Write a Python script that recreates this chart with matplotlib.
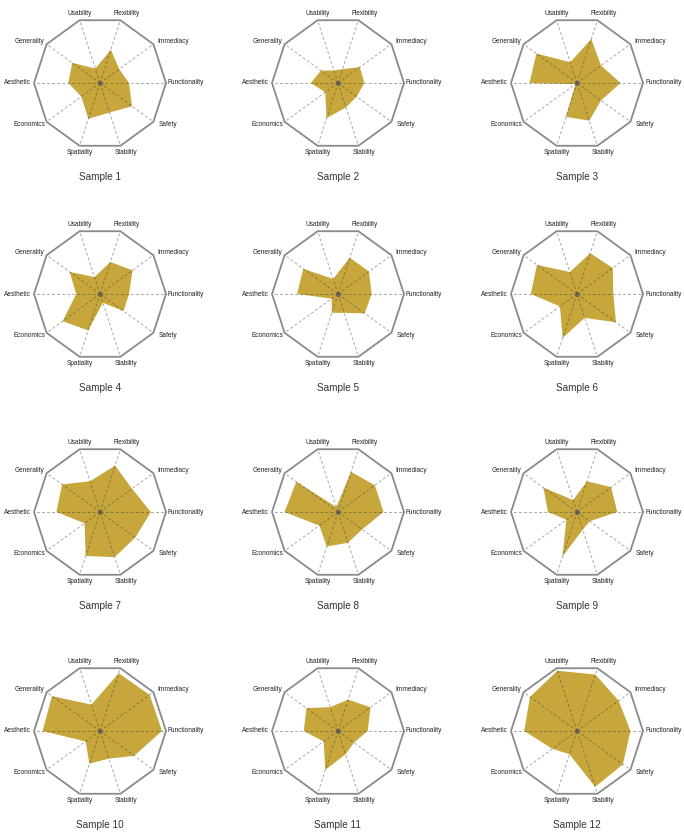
import numpy as np
import matplotlib
matplotlib.use("Agg")
import matplotlib.pyplot as plt

# Categories, counter-clockwise starting at 0 degrees (right)
categories = ["Functionality", "Immediacy", "Flexibility", "Usability", "Generality",
              "Aesthetic", "Economics", "Spatiality", "Stability", "Safety"]

sample_names = [f"Sample {i}" for i in range(1, 13)]

s1 = [44, 36, 53, 23, 52, 48, 35, 57, 47, 60]
s2 = [40, 41, 22, 20, 32, 41, 24, 56, 39, 35]
s3 = [66, 45, 70, 33, 76, 72, 3, 54, 60, 45]
s4 = [44, 61, 51, 27, 57, 36, 70, 58, 14, 44]
s5 = [51, 58, 58, 24, 65, 62, 12, 30, 30, 50]
s6 = [55, 67, 65, 35, 75, 70, 32, 70, 38, 73]
s7 = [77, 60, 74, 49, 71, 66, 29, 70, 72, 66]
s8 = [69, 69, 64, 8, 78, 81, 35, 55, 49, 45]
s9 = [61, 64, 49, 19, 63, 44, 20, 71, 28, 24]
s10 = [94, 93, 92, 42, 90, 87, 27, 52, 44, 64]
s11 = [45, 61, 50, 38, 59, 52, 27, 62, 37, 30]
s12 = [81, 78, 90, 96, 88, 80, 46, 37, 89, 86]
samples = [s1, s2, s3, s4, s5, s6, s7, s8, s9, s10, s11, s12]

W, H = 684, 839
fig = plt.figure(figsize=(W / 100, H / 100), dpi=100)
fig.patch.set_facecolor("white")

FONT = ["Liberation Sans Narrow", "Liberation Sans", "DejaVu Sans"]
col_x = [100, 338, 577]
row_y = [83, 294, 512, 731]
R = 66

fill_color = "#C7A73C"
frame_color = "#8A8A8A"
spoke_color = "#333333"

n = len(categories)
theta = np.arange(n) * 2 * np.pi / n

# label alignment: (ha, va, dx_px, dy_px)
lab_style = [
    ("left", "center", 2, 0),
    ("left", "center", 4, 3),
    ("center", "bottom", 6, 3),
    ("center", "bottom", 0, 3),
    ("right", "center", -2, 3),
    ("right", "center", -3, 0),
    ("right", "center", -1, -3),
    ("center", "top", 0, -3),
    ("center", "top", 6, -3),
    ("left", "center", 5, -3),
]

for idx, vals in enumerate(samples):
    r, c = divmod(idx, 3)
    cx, cy = col_x[c], row_y[r]
    ax = fig.add_axes([(cx - R) / W, (H - cy - R) / H, 2 * R / W, 2 * R / H],
                      projection="polar")
    ax.set_theta_offset(0)
    ax.set_ylim(0, 100)
    ax.set_xticks([])
    ax.set_yticks([])
    ax.grid(False)
    ax.spines["polar"].set_visible(False)
    ax.patch.set_alpha(0)

    tt = np.append(theta, theta[0])
    vv = np.append(vals, vals[0])
    ax.fill(tt, vv, color=fill_color, zorder=2, lw=0)

    # spokes (semi-transparent dark: light grey on white, dark olive over fill)
    for t in theta:
        ax.plot([t, t], [0, 100], color=spoke_color, alpha=0.42, lw=0.7,
                ls=(0, (3, 2.2)), zorder=3)
    # outer decagon
    ax.plot(tt, np.full_like(tt, 100.0), color=frame_color, lw=1.3, zorder=4,
            solid_joinstyle="miter", clip_on=False)
    ax.plot([0], [0], "o", ms=3, mfc="none", mec="#666666", mew=0.7, zorder=5)

    for k, lab in enumerate(categories):
        ha, va, dx, dy = lab_style[k]
        ax.annotate(lab, xy=(theta[k], 100), xytext=(dx * 0.72, dy * 0.72),
                    textcoords="offset points", ha=ha, va=va, fontsize=4.7,
                    family=FONT, color="#222222", annotation_clip=False)

    ax.text(0.5, 0.5 - 94 / (2 * R), sample_names[idx], transform=ax.transAxes,
            ha="center", va="center", fontsize=7.2, family=FONT, color="#333333")

fig.savefig("out.png", dpi=100, facecolor="white")
